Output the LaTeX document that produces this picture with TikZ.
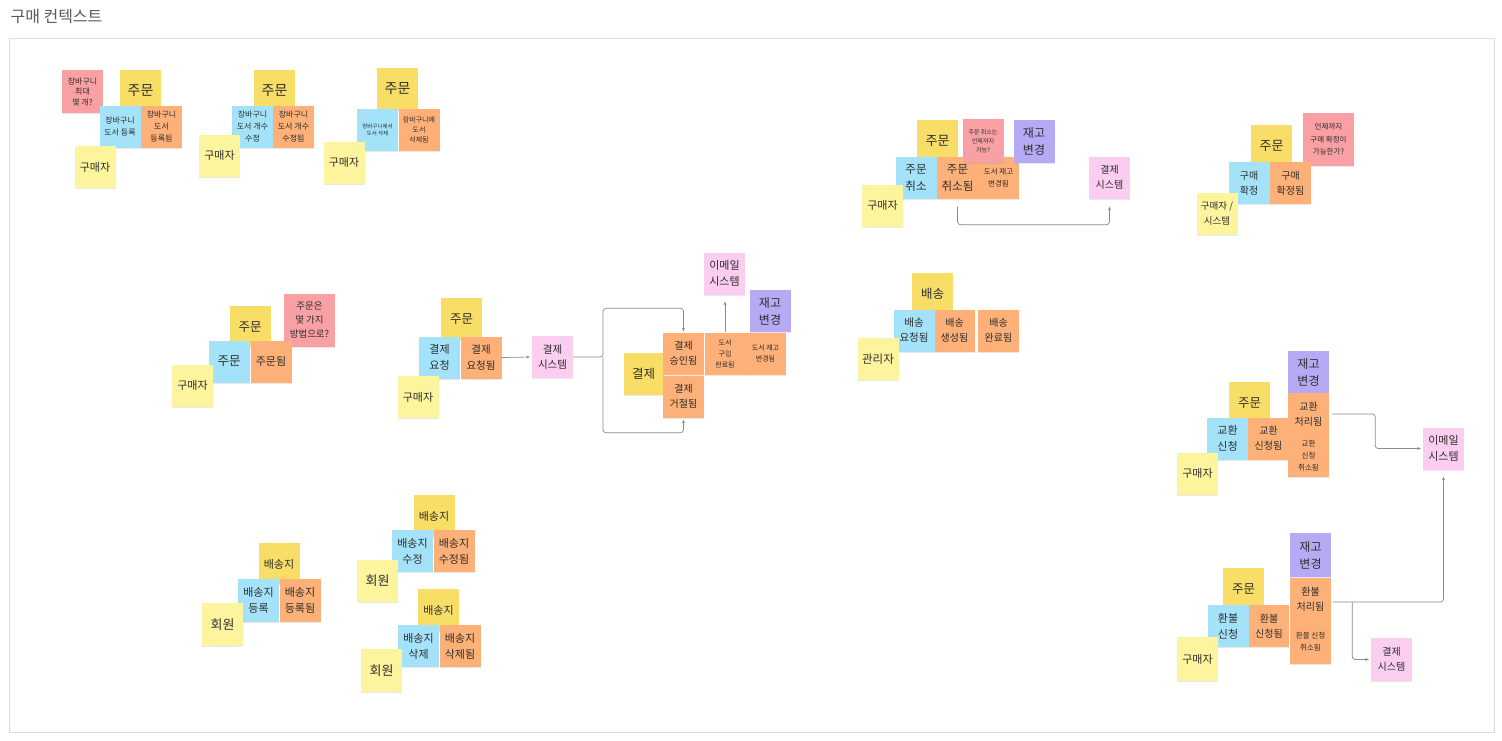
\documentclass[tikz,border=0pt]{standalone}
\usepackage{fontspec}
\setmainfont{Noto Sans CJK KR}
\usetikzlibrary{arrows.meta,shadows}

\definecolor{aggY}{HTML}{F8DE66}
\definecolor{actY}{HTML}{FDF49E}
\definecolor{cmdB}{HTML}{A3E2F9}
\definecolor{evtO}{HTML}{FDB077}
\definecolor{hotR}{HTML}{F8A0A3}
\definecolor{sysP}{HTML}{FBCDEF}
\definecolor{invV}{HTML}{B6AAF5}
\definecolor{ink}{HTML}{2E2E2E}
\definecolor{wire}{HTML}{8A8A8A}
\definecolor{frameC}{HTML}{DCDCDC}
\definecolor{titleC}{HTML}{5A5A5A}

\newcommand{\stkfont}[2]{\fontsize{#1}{#2}\selectfont}

\tikzset{
  sticky/.style={minimum width=41pt, minimum height=42pt, inner sep=0pt,
    align=center, text=ink,
    drop shadow={shadow xshift=0pt, shadow yshift=-1pt, opacity=.18}},
  agg/.style={sticky, fill=aggY},
  act/.style={sticky, fill=actY},
  cmd/.style={sticky, fill=cmdB},
  evt/.style={sticky, fill=evtO},
  hot/.style={sticky, fill=hotR},
  ext/.style={sticky, fill=sysP},
  inv/.style={sticky, fill=invV},
  conn/.style={draw=wire, line width=0.7pt, rounded corners=3pt,
    -{Stealth[length=3.5pt,width=3pt]}},
}

\begin{document}
\begin{tikzpicture}[x=1pt, y=-1pt]
\useasboundingbox (0,0) rectangle (1502,740);
\fill[white] (0,0) rectangle (1502,740);

% title and board frame
\node[anchor=west, text=titleC, font=\stkfont{16}{18}] (title) at (7,17) {구매 컨텍스트};
\draw[frameC, line width=0.8pt] (9,38) rectangle (1494,732);

% --- 장바구니 도서 등록
\node[hot, minimum height=43pt, font=\stkfont{8}{10.5}] (g1hot) at (82.5,91.5) {장바구니\\최대\\몇 개?};
\node[agg, font=\stkfont{14}{16}] (g1agg) at (140.5,91) {주문};
\node[cmd, font=\stkfont{8}{12}] (g1cmd) at (120,126.5) {장바구니\\도서 등록};
\node[evt, font=\stkfont{8}{12}] (g1ev) at (161.5,126.5) {장바구니\\도서\\등록됨};
\node[act, font=\stkfont{11}{14}] (g1act) at (95,167) {구매자};

% --- 장바구니 도서 개수 수정
\node[agg, font=\stkfont{14}{16}] (g2agg) at (274.5,91) {주문};
\node[cmd, font=\stkfont{8}{12}] (g2cmd) at (252.5,126.5) {장바구니\\도서 개수\\수정};
\node[evt, font=\stkfont{8}{12}] (g2ev) at (293.5,126.5) {장바구니\\도서 개수\\수정됨};
\node[act, font=\stkfont{11}{14}] (g2act) at (219.5,155.5) {구매자};

% --- 장바구니 도서 삭제
\node[agg, font=\stkfont{14}{16}] (g3agg) at (397.5,89) {주문};
\node[cmd, font=\stkfont{5.5}{7.5}] (g3cmd) at (377.5,130) {장바구니에서\\도서 삭제};
\node[evt, font=\stkfont{7}{10}] (g3ev) at (419,130) {장바구니에\\도서\\삭제됨};
\node[act, font=\stkfont{11}{14}] (g3act) at (344,162.5) {구매자};

% --- 주문
\node[agg, font=\stkfont{12.5}{15}] (g4agg) at (250,327) {주문};
\node[hot, minimum width=51pt, minimum height=53pt, font=\stkfont{9.5}{14}] (g4hot) at (309.5,320.5) {주문은\\몇 가지\\방법으로?};
\node[cmd, font=\stkfont{12.5}{15}] (g4cmd) at (229,361.5) {주문};
\node[evt, font=\stkfont{11}{14}] (g4ev) at (271,361.5) {주문됨};
\node[act, font=\stkfont{11}{14}] (g4act) at (192.5,385.5) {구매자};

% --- 결제 요청
\node[agg, font=\stkfont{12.5}{15}] (g5agg) at (461.5,319) {주문};
\node[cmd, font=\stkfont{11}{16}] (g5cmd) at (439.5,357.5) {결제\\요청};
\node[evt, font=\stkfont{10.5}{16}] (g5ev) at (481,357.5) {결제\\요청됨};
\node[act, font=\stkfont{11}{14}] (g5act) at (418,397) {구매자};
\node[ext, font=\stkfont{10.5}{15}] (g5sys) at (552.5,357) {결제\\시스템};

% --- 결제 결과
\node[ext, font=\stkfont{11}{16}] (g5mail) at (724.5,273.5) {이메일\\시스템};
\node[inv, font=\stkfont{12}{17}] (g5inv) at (770,311) {재고\\변경};
\node[agg, minimum width=40pt, font=\stkfont{12.5}{15}] (g5pay) at (643.5,373.5) {결제};
\node[evt, font=\stkfont{10}{15}] (g5ok) at (683.5,353.5) {결제\\승인됨};
\node[evt, font=\stkfont{10}{15}] (g5no) at (683.5,396.5) {결제\\거절됨};
\node[evt, font=\stkfont{7}{11}] (g5buy) at (725,353.5) {도서\\구입\\완료됨};
\node[evt, font=\stkfont{7}{11}] (g5stk) at (765.5,353.5) {도서 재고\\변경됨};

\coordinate (g5fork) at (603,357);
\draw[conn, shorten >=2pt] (g5ev.east) -- (g5sys.west);
\draw[conn, shorten >=1pt] (g5sys.east) -- (g5fork) |- ([yshift=24pt]g5ok.north) -- (g5ok.north);
\draw[conn, shorten >=2pt] (g5fork) |- ([yshift=-15pt]g5no.south) -- (g5no.south);
\draw[conn, shorten >=7pt] (g5buy.north) -- (g5buy.north |- g5mail.south);

% --- 주문 취소
\node[agg, font=\stkfont{13}{16}] (g6agg) at (937.5,141) {주문};
\node[cmd, font=\stkfont{11.5}{17}] (g6cmd) at (916,177.5) {주문\\취소};
\node[evt, font=\stkfont{11.5}{17}] (g6ev) at (957.5,177.5) {주문\\취소됨};
\node[evt, font=\stkfont{7.5}{12}] (g6stk) at (998.5,177.5) {도서 재고\\변경됨};
\node[hot, minimum height=44pt, font=\stkfont{6}{9}] (g6hot) at (983,141) {주문 취소는\\언제까지\\가능?};
\node[inv, minimum height=43pt, font=\stkfont{12}{17}] (g6inv) at (1034,141.5) {재고\\변경};
\node[act, font=\stkfont{11}{14}] (g6act) at (882.5,205.5) {구매자};
\node[ext, font=\stkfont{10}{15}] (g6sys) at (1109.5,177.5) {결제\\시스템};
\draw[conn, shorten <=8pt, shorten >=8pt] (g6ev.south) -- ++(0,26) -| (g6sys.south);

% --- 구매 확정
\node[agg, font=\stkfont{13}{16}] (g7agg) at (1271.5,146) {주문};
\node[hot, minimum width=51pt, minimum height=53pt, font=\stkfont{7.5}{12.5}] (g7hot) at (1328.5,139.5) {언제까지\\구매 확정이\\가능한가?};
\node[cmd, font=\stkfont{10}{15}] (g7cmd) at (1249,183) {구매\\확정};
\node[evt, font=\stkfont{10}{15}] (g7ev) at (1290.5,183) {구매\\확정됨};
\node[act, font=\stkfont{9.5}{15}] (g7act) at (1217,213.5) {구매자 /\\시스템};

% --- 배송
\node[agg, font=\stkfont{12.5}{15}] (g8agg) at (932.5,294) {배송};
\node[cmd, font=\stkfont{10.5}{15}] (g8cmd) at (914,330.5) {배송\\요청됨};
\node[evt, minimum width=40pt, font=\stkfont{10}{15}] (g8ev) at (954.5,330.5) {배송\\생성됨};
\node[evt, font=\stkfont{10}{15}] (g8done) at (998.5,330.5) {배송\\완료됨};
\node[act, font=\stkfont{11.5}{14}] (g8act) at (878,359) {관리자};

% --- 교환
\node[inv, font=\stkfont{12}{17}] (g9inv) at (1308.5,372) {재고\\변경};
\node[agg, font=\stkfont{12.5}{15}] (g9agg) at (1249.5,403) {주문};
\node[evt, font=\stkfont{10}{15}] (g9done) at (1308.5,414) {교환\\처리됨};
\node[evt, font=\stkfont{7.5}{12}] (g9cancel) at (1308.5,456) {교환\\신청\\취소됨};
\node[cmd, font=\stkfont{11}{16}] (g9cmd) at (1227.5,438.5) {교환\\신청};
\node[evt, font=\stkfont{10}{15}] (g9ev) at (1268.5,438.5) {교환\\신청됨};
\node[act, font=\stkfont{11}{14}] (g9act) at (1197.5,473.5) {구매자};
\node[ext, font=\stkfont{11}{16}] (mail2) at (1443.5,448.5) {이메일\\시스템};
\draw[conn, shorten <=3pt, shorten >=2pt] (g9done.east) -- ++(46,0) |- (mail2.west);

% --- 환불
\node[inv, minimum height=44pt, font=\stkfont{12}{17}] (g10inv) at (1310.5,555) {재고\\변경};
\node[agg, font=\stkfont{12.5}{15}] (g10agg) at (1243.5,589) {주문};
\node[evt, font=\stkfont{10}{15}] (g10done) at (1310.5,599) {환불\\처리됨};
\node[evt, minimum height=44pt, font=\stkfont{7.5}{12}] (g10cancel) at (1310.5,642) {환불 신청\\취소됨};
\node[cmd, font=\stkfont{11}{16}] (g10cmd) at (1228,626) {환불\\신청};
\node[evt, minimum width=40pt, font=\stkfont{10}{15}] (g10ev) at (1269,626) {환불\\신청됨};
\node[act, minimum height=44pt, font=\stkfont{11}{14}] (g10act) at (1197.5,659) {구매자};
\node[ext, minimum height=43pt, font=\stkfont{10}{15}] (g10sys) at (1391.5,659.5) {결제\\시스템};
\draw[conn, shorten <=2pt, shorten >=7pt] ([yshift=-3pt]g10done.east) -| (mail2.south);
\draw[conn, shorten >=2pt] ([xshift=21pt,yshift=-3pt]g10done.east) |- (g10sys.west);

% --- 배송지 등록
\node[agg, font=\stkfont{11}{14}] (g11agg) at (279,564) {배송지};
\node[cmd, minimum height=43pt, font=\stkfont{11}{16}] (g11cmd) at (258.5,600.5) {배송지\\등록};
\node[evt, minimum height=43pt, font=\stkfont{11}{16}] (g11ev) at (300,600.5) {배송지\\등록됨};
\node[act, minimum height=43pt, font=\stkfont{13}{16}] (g11act) at (222.5,624.5) {회원};

% --- 배송지 수정
\node[agg, font=\stkfont{11}{14}] (g12agg) at (434,516) {배송지};
\node[cmd, font=\stkfont{11}{16}] (g12cmd) at (412.5,551) {배송지\\수정};
\node[evt, font=\stkfont{11}{16}] (g12ev) at (454,551) {배송지\\수정됨};
\node[act, font=\stkfont{13}{16}] (g12act) at (377.5,581) {회원};

% --- 배송지 삭제
\node[agg, font=\stkfont{11}{14}] (g13agg) at (438.5,610) {배송지};
\node[cmd, font=\stkfont{11}{16}] (g13cmd) at (418.5,646) {배송지\\삭제};
\node[evt, font=\stkfont{11}{16}] (g13ev) at (460,646) {배송지\\삭제됨};
\node[act, minimum height=43pt, font=\stkfont{13}{16}] (g13act) at (381.5,670.5) {회원};
\end{tikzpicture}
\end{document}
